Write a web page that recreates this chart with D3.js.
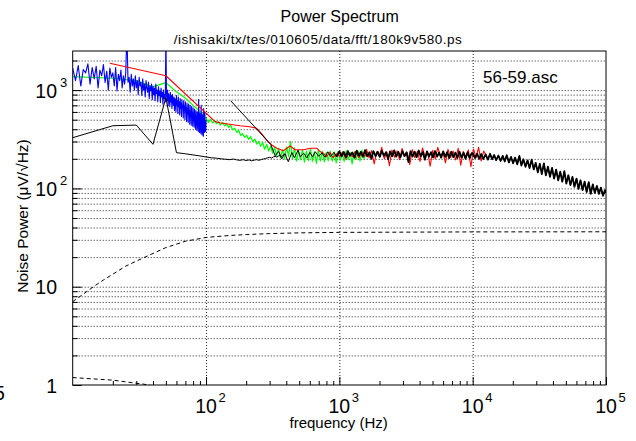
<!DOCTYPE html>
<html>
<head>
<meta charset="utf-8">
<script src="https://cdn.jsdelivr.net/npm/d3@7"></script>
<style>
body { margin: 0; background: #fff; }
text { font-family: "Liberation Sans", Arial, Helvetica, sans-serif; fill: #000; }
</style>
</head>
<body>
<div id="chart"></div>
<script>
// ---- data ----
// blue: fine spectrum, 0.5 Hz bins from 10 Hz
const blueStart = 10, blueStep = 0.5
const bluePow = [
  1670, 1250, 1780, 1100, 1620, 1500, 1850, 1150, 1700, 1300,
  1750, 1050, 1600, 1400, 1820, 1200, 1550, 1000, 1680, 1350,
  1500, 1100, 1700, 980, 1450, 1250, 1600, 1050, 1400, 1150,
  1500, 4000, 1200, 1350, 950, 1450, 1100, 1300, 1000, 1400,
  1050, 1250, 900, 1350, 1100, 1200, 880, 1300, 1000, 1150,
  850, 1250, 1050, 950, 1200, 820, 1100, 980, 1150, 800,
  1100, 900, 1050, 780, 1150, 920, 1000, 760, 1080, 880,
  980, 750, 1050, 850, 950, 720, 1000, 820, 900, 760,
  4000, 900, 780, 1000, 700, 920, 820, 680, 950, 760,
  880, 650, 900, 780, 700, 850, 620, 820, 740, 600,
  880, 700, 780, 580, 850, 680, 760, 560, 820, 650,
  740, 540, 800, 660, 700, 520, 780, 620, 680, 500,
  760, 600, 660, 480, 740, 580, 640, 470, 720, 560,
  620, 450, 700, 540, 600, 440, 680, 520, 580, 430,
  660, 500, 560, 420, 640, 480, 540, 400, 620, 470,
  520, 390, 600, 460, 500, 380, 800, 450, 480, 370,
  580, 440, 470, 360, 700, 430, 460, 350, 560, 420,
  450, 340, 650, 410, 440, 370, 600, 400, 430, 380, 500
]

const greenFreq = [10, 20, 30, 40, 50, 60, 70, 80, 90,
  100, 104, 108, 112, 116, 120, 124, 128, 133, 138, 143, 148, 153, 158, 164,
  170, 176, 182, 188, 195, 202, 209, 216, 224, 232, 240, 248, 257, 266, 275,
  285, 295, 305, 316, 327, 338, 350, 362, 375, 388, 402, 416, 430, 445, 461,
  477, 494, 511, 529, 547, 566, 586, 607, 628, 650, 673, 696, 720, 745, 771,
  798, 826, 855, 885, 916, 948, 981, 1015, 1050, 1087, 1125, 1164, 1205, 1247,
  1290, 1335, 1382, 1430, 1480, 1532, 1585]
const greenPow = [1370, 1320, 1250, 1080, 1190, 960, 830, 700, 610,
  520, 470, 505, 462, 490, 455, 478, 440, 470, 432, 452, 418, 440, 395, 410,
  372, 388, 345, 362, 330, 348, 315, 338, 300, 318, 282, 302, 268, 295, 250,
  282, 240, 270, 228, 262, 215, 255, 205, 248, 198, 265, 212, 300, 200, 258,
  190, 242, 195, 248, 185, 240, 192, 252, 188, 236, 180, 245, 190, 238, 186,
  232, 192, 240, 190, 235, 182, 238, 193, 230, 188, 242, 195, 232, 178,
  236, 196, 240, 190, 245, 200, 228]

const redFreq = [19, 50, 117, 127, 150, 180, 213, 240, 260, 285, 311, 340, 380,
  427, 465, 540, 605, 680, 720, 760, 800, 850, 900, 950, 1000, 1060, 1120, 1180,
  1250, 1320, 1400, 1480, 1550,
  1600, 1670, 1745, 1825, 1905, 1990, 2080, 2175, 2270, 2375, 2480, 2590, 2710,
  2830, 2955, 3090, 3230, 3375, 3525, 3685, 3850, 4025, 4205, 4395, 4590, 4800,
  5015, 5240, 5475, 5720, 5980, 6250, 6530, 6825, 7130, 7450, 7785, 8135, 8500,
  8885, 9285, 9700, 10140, 10595, 11070, 11570, 12090, 12635]
const redPow = [1875, 1400, 478, 466, 450, 434, 424, 409, 363, 310, 277, 256, 242,
  270, 247, 247, 256, 256, 236, 228, 210, 232, 205, 226, 212, 235, 200, 230,
  210, 238, 205, 232, 212,
  250, 205, 242, 178, 236, 212, 262, 200, 235, 170, 245, 208, 240,
  196, 255, 212, 232, 175, 248, 206, 238, 188, 258, 210, 236, 168,
  244, 200, 262, 215, 232, 182, 250, 206, 240, 195, 256, 172, 238,
  210, 246, 166, 252, 204, 262, 190, 240, 215]

// black: coarse 10 Hz spectrum
const blackCoarseFreq = [10, 20, 30, 40, 50, 60, 70, 80, 90, 100, 110, 120, 130,
  140, 150, 160, 170, 180, 190, 200, 210, 220, 230, 240, 250, 260, 270, 280, 290,
  300, 310, 320, 330, 340, 350, 360, 370, 380, 390, 400]
const blackCoarsePow = [328, 434, 441, 281, 837, 231, 225, 219, 214, 209, 205, 203,
  200, 198, 196, 199, 195, 193, 196, 192, 195, 191, 194, 196, 193, 197, 199, 202,
  205, 207, 204, 209, 212, 208, 214, 216, 211, 219, 222, 216]

// black: fine spectrum up to 100 kHz
const blackFreq = [153, 306, 330, 350, 370, 390, 414, 440, 460, 490, 510, 540, 570,
  600, 630, 660, 700, 740, 780, 820, 860, 910, 950,
  1000, 1040, 1080, 1120, 1160, 1200, 1250, 1300, 1350, 1400, 1450, 1500, 1560,
  1620, 1680, 1740, 1800, 1870, 1940, 2010, 2080, 2160, 2240, 2320, 2400, 2490,
  2580, 2670, 2770, 2870, 2970, 3080, 3190, 3300, 3420, 3540, 3670, 3800, 3940,
  4080, 4230, 4380, 4540, 4700, 4870, 5040, 5220, 5410, 5600, 5800, 6010, 6220,
  6440, 6670, 6910, 7160, 7420, 7680, 7960, 8240, 8540, 8840, 9160, 9490, 9830,
  10000, 10400, 10800, 11200, 11600, 12000, 12500, 13000, 13500, 14000, 14500,
  15000, 15600, 16200, 16800, 17400, 18000, 18700, 19400, 20100, 20800, 21600,
  22400, 23200, 24000, 24900, 25800, 26700, 27700, 28700, 29700, 30800, 31900,
  33000, 34200, 35400, 36700, 38000, 39400, 40800, 42300, 43800, 45400, 47000,
  48700, 50400, 52200, 54100, 56000, 58000, 60100, 62200, 64400, 66700, 69100,
  71600, 74200, 76800, 79600, 82400, 85400, 88400, 91600, 94900, 98300, 100000]
const blackPow = [780, 280, 215, 238, 200, 226, 187, 232, 205, 245, 210, 228, 205,
  232, 210, 236, 212, 230, 208, 236, 211, 233, 210,
  238, 212, 235, 208, 240, 215, 232, 205, 242, 214, 236, 210, 245,
  212, 233, 200, 239, 213, 236, 209, 241, 214, 234, 198, 238, 212,
  244, 210, 236, 207, 239, 213, 233, 185, 240, 211, 237, 208, 243,
  212, 235, 196, 238, 210, 234, 207, 240, 211, 232, 205, 238, 209,
  234, 203, 236, 208, 231, 204, 237, 206, 230, 200, 233, 203, 229,
  228, 204, 226, 200, 224, 199, 222, 196, 225, 198, 219,
  194, 216, 190, 214, 188, 218, 184, 209, 180, 206, 176,
  214, 171, 198, 166, 193, 161, 196, 156, 182, 146, 178,
  140, 180, 136, 166, 131, 162, 126, 155, 121, 148, 117,
  150, 112, 136, 108, 131, 104, 126, 99, 121, 96, 117,
  92, 116, 88, 110, 90, 106, 88, 102, 84, 96, 90]

// dashed model curves
const dashHiFreq = [10, 12, 14.3, 17, 20, 25, 34, 50, 70, 100, 150, 200, 300, 500, 1000, 10000, 100000]
const dashHiPow = [7.05, 8.4, 10, 11.7, 13.4, 16.2, 19.7, 25, 29, 31.7, 33.2, 33.9, 34.7, 35.3, 35.7, 36.1, 36.2]
const dashLoFreq = [10, 20, 34, 50, 70]
const dashLoPow = [1.19, 1.12, 1.02, 0.93, 0.85]

const xLabels = [100, 1000, 10000, 100000]
const yLabels = [1, 10, 100, 1000]

// ---- drawing ----
const width = 636, height = 441
const mLeft = 72.7, mRight = 606, mTop = 51, mBottom = 385

const svg = d3.select("#chart")
    .append("svg")
    .attr("width", width)
    .attr("height", height)

const x = d3.scaleLog().domain([10, 1e5]).range([mLeft, mRight])
const y = d3.scaleLog().domain([1, 2500]).range([mBottom, mTop])

svg.append("defs").append("clipPath").attr("id", "plot")
    .append("rect")
    .attr("x", mLeft).attr("y", mTop)
    .attr("width", mRight - mLeft).attr("height", mBottom - mTop)

// minor/major tick values
const decadeSteps = (lo, hi) => {
    let out = []
    for (let p = 1; p <= 1e5; p *= 10)
        for (let m = 1; m <= 9; m++) {
            let v = m * p
            if (v > lo && v < hi) out.push(v)
        }
    return out
}
const xMinor = decadeSteps(10, 1e5).filter(v => !xLabels.includes(v))
const yAll = decadeSteps(1, 2500)
const yMinor = yAll.filter(v => !yLabels.includes(v))

// grid lines
svg.append("g")
    .attr("transform", `translate(0,${mBottom})`)
    .call(d3.axisBottom(x).tickValues([100, 1000, 10000]).tickSize(-(mBottom - mTop)).tickFormat(""))
    .call(g => g.select(".domain").remove())
    .selectAll("line")
    .attr("stroke", "#222")
    .attr("stroke-dasharray", "1,2")

svg.append("g")
    .attr("transform", `translate(${mLeft},0)`)
    .call(d3.axisLeft(y).tickValues(yAll).tickSize(-(mRight - mLeft)).tickFormat(""))
    .call(g => g.select(".domain").remove())
    .selectAll("line")
    .attr("stroke", "#222")
    .attr("stroke-dasharray", "1,2")

// data lines
const line = d3.line().x(d => x(d[0])).y(d => y(d[1]))
const plot = svg.append("g").attr("clip-path", "url(#plot)")

const pairs = (f, p) => f.map((v, i) => [v, p[i]])
const blue = bluePow.map((p, i) => [blueStart + blueStep * i, p])
const blackFine = pairs(blackFreq, blackPow)

function draw(data, color, width, dash) {
    plot.append("path")
        .datum(data)
        .attr("d", line)
        .attr("fill", "none")
        .attr("stroke", color)
        .attr("stroke-width", width)
        .attr("stroke-linejoin", "round")
        .attr("stroke-dasharray", dash || null)
}

draw(pairs(greenFreq, greenPow), "#00ff00", 1.2)
draw(blue, "#0000ff", 1.1)
draw(pairs(redFreq, redPow), "#ff0000", 1.1)
draw(pairs(blackCoarseFreq, blackCoarsePow), "#000", 1)
draw(blackFine, "#000", 1)
// the dense part of the fine spectrum reads as a heavy band
draw(blackFine.filter(d => d[0] >= 950), "#000", 1.8)
draw(pairs(dashHiFreq, dashHiPow), "#000", 1, "4,3")
draw(pairs(dashLoFreq, dashLoPow), "#000", 1, "4,3")

// ticks
svg.append("g")
    .attr("transform", `translate(0,${mBottom})`)
    .call(d3.axisBottom(x).tickValues(xMinor).tickSize(-4).tickFormat(""))
    .call(g => g.select(".domain").remove())
svg.append("g")
    .attr("transform", `translate(0,${mBottom})`)
    .call(d3.axisBottom(x).tickValues(xLabels).tickSize(-8).tickFormat(""))
    .call(g => g.select(".domain").remove())
svg.append("g")
    .attr("transform", `translate(${mLeft},0)`)
    .call(d3.axisLeft(y).tickValues(yMinor).tickSize(-5).tickFormat(""))
    .call(g => g.select(".domain").remove())
svg.append("g")
    .attr("transform", `translate(${mLeft},0)`)
    .call(d3.axisLeft(y).tickValues(yLabels).tickSize(-9).tickFormat(""))
    .call(g => g.select(".domain").remove())

// frame
svg.append("rect")
    .attr("x", mLeft).attr("y", mTop)
    .attr("width", mRight - mLeft).attr("height", mBottom - mTop)
    .attr("fill", "none")
    .attr("stroke", "#000")
    .attr("stroke-width", 1)

// tick labels
xLabels.forEach(v => {
    svg.append("text")
        .attr("x", x(v)).attr("y", 413)
        .attr("text-anchor", "middle")
        .style("font-size", "19.5px")
        .text("10")
    svg.append("text")
        .attr("x", x(v) + 12.5).attr("y", 402)
        .style("font-size", "13px")
        .text(Math.round(Math.log10(v)))
})
yLabels.forEach(v => {
    let e = Math.round(Math.log10(v))
    svg.append("text")
        .attr("x", 57).attr("y", y(v) + 7.5)
        .attr("text-anchor", "end")
        .style("font-size", "19.5px")
        .text(e === 0 ? "1" : "10")
    if (e > 1)
        svg.append("text")
            .attr("x", 60).attr("y", y(v) - 3)
            .style("font-size", "13px")
            .text(e)
})
svg.append("text")
    .attr("x", -6).attr("y", 400)
    .style("font-size", "19.5px")
    .text("5")

// titles
svg.append("text")
    .attr("x", 339.7).attr("y", 22)
    .attr("text-anchor", "middle")
    .style("font-size", "16px")
    .text("Power Spectrum")
svg.append("text")
    .attr("x", 317.8).attr("y", 44)
    .attr("text-anchor", "middle")
    .style("font-size", "13.5px")
    .attr("textLength", 288)
    .text("/ishisaki/tx/tes/010605/data/fft/180k9v580.ps")
svg.append("text")
    .attr("x", 483).attr("y", 82.5)
    .style("font-size", "17px")
    .text("56-59.asc")
svg.append("text")
    .attr("x", 338.7).attr("y", 428)
    .attr("text-anchor", "middle")
    .style("font-size", "15px")
    .text("frequency (Hz)")
svg.append("text")
    .attr("transform", "translate(28,216) rotate(-90)")
    .attr("text-anchor", "middle")
    .style("font-size", "15.5px")
    .text("Noise Power (\u03bcV/\u221aHz)")
</script>
</body>
</html>
